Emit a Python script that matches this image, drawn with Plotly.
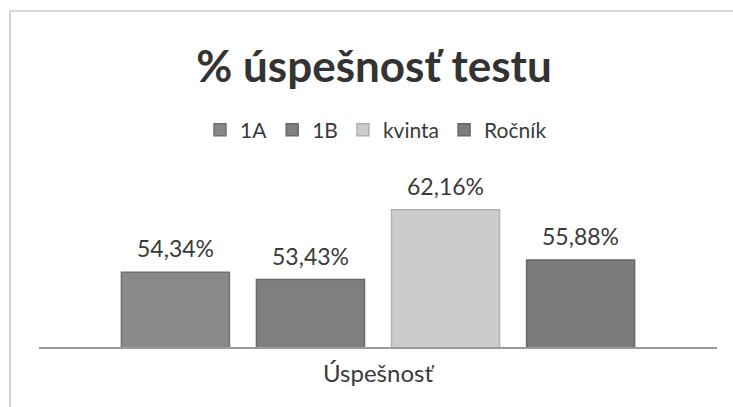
import plotly.graph_objects as go

series = ["1A", "1B", "kvinta", "Ročník"]
values = [54.34, 53.43, 62.16, 55.88]
labels = ["54,34%", "53,43%", "62,16%", "55,88%"]
category = "Úspešnosť"
colors = ["#898989", "#7f7f7f", "#cccccc", "#7c7c7c"]
edge_colors = ["#707070", "#696969", "#b2b2b2", "#676767"]

FONT = "Lato, Carlito, Calibri, sans-serif"
TXT = "#3a3a3a"

fig = go.Figure()
for s, v, c, ec in zip(series, values, colors, edge_colors):
    fig.add_trace(go.Bar(
        x=[s], y=[v], name=s,
        marker=dict(color=c, line=dict(color=ec, width=1.5)),
        hoverinfo="skip",
    ))

for s, v, t in zip(series, values, labels):
    fig.add_annotation(x=s, y=v, text=t, showarrow=False, yanchor="bottom",
                       yshift=8, font=dict(family=FONT, size=23, color=TXT))

W, H = 733, 407
L, R, T, B = 39, 16, 147, 60
pw, ph = W - L - R, H - T - B

def px_x(p):
    return (p - L) / pw

def px_y(p):
    return (H - B - p) / ph

fig.add_shape(type="rect", xref="paper", yref="paper",
              x0=px_x(10), x1=px_x(760), y0=px_y(430), y1=px_y(11),
              line=dict(color="#b4b4b4", width=1.2), layer="below")

fig.update_layout(
    width=W, height=H,
    margin=dict(l=L, r=R, t=T, b=B),
    paper_bgcolor="white", plot_bgcolor="white",
    barmode="overlay", bargap=0.2,
    title=dict(text="<b>% úspešnosť testu</b>", x=374 / W, xanchor="center",
               y=1 - 67 / H, yanchor="middle", yref="container",
               font=dict(family=FONT, size=44, color="#333333")),
    legend=dict(orientation="h", x=px_x(376), xanchor="center", y=px_y(130), yanchor="middle",
                font=dict(family=FONT, size=21, color=TXT), itemclick=False,
                itemwidth=30, tracegroupgap=0, bgcolor="rgba(0,0,0,0)"),
    xaxis=dict(range=[-1.01, 4.01], showticklabels=False, showgrid=False, zeroline=False,
               showline=True, linecolor="#9a9a9a", linewidth=1.5, ticks="",
               title=dict(text=category, standoff=17,
                          font=dict(family=FONT, size=24, color=TXT))),
    yaxis=dict(range=[45, 70], visible=False),
    showlegend=True,
)

fig.write_html("out.html")
